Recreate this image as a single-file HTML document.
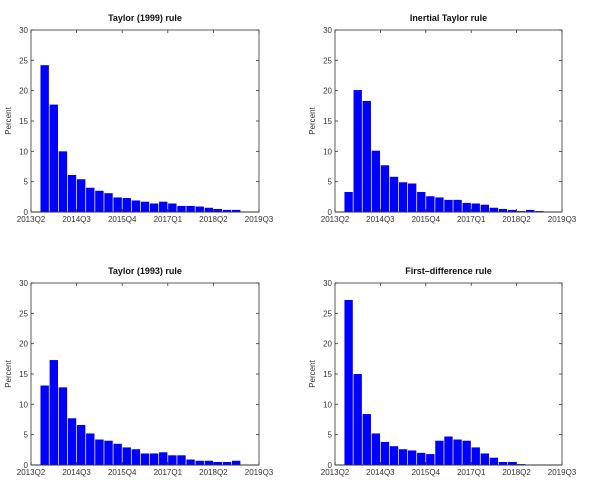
<!DOCTYPE html>
<html><head><meta charset="utf-8"><style>
html,body{margin:0;padding:0;background:#fff;}
svg{display:block;font-family:"Liberation Sans",Arial,sans-serif;}
</style></head><body>
<svg id="chart" width="600" height="493" viewBox="0 0 600 493"></svg>
<script>
const quarterTicks = ["2013Q2","2014Q3","2015Q4","2017Q1","2018Q2","2019Q3"];
const yTicks = [0,5,10,15,20,25,30];
const titles = ["Taylor (1999) rule","Inertial Taylor rule","Taylor (1993) rule","First\u2013difference rule"];
const taylor1999 = [24.2,17.7,10,6.1,5.4,4,3.5,3.1,2.4,2.3,1.9,1.7,1.4,1.7,1.4,1.0,1.0,0.9,0.7,0.5,0.35,0.35];
const inertialTaylor = [3.3,20.1,18.3,10.1,7.7,5.8,4.9,4.7,3.3,2.6,2.4,2.0,2.0,1.5,1.4,1.2,0.7,0.5,0.35,0.15,0.35,0.15];
const taylor1993 = [13.1,17.3,12.8,7.7,6.6,5.2,4.2,4.0,3.5,2.9,2.6,1.9,1.9,2.1,1.6,1.6,0.9,0.7,0.7,0.5,0.5,0.7];
const firstDifference = [27.2,15,8.4,5.2,3.8,3.1,2.6,2.4,2.0,1.8,4.0,4.7,4.2,4.0,2.9,1.9,1.2,0.5,0.5,0.15,0,0];

const NS="http://www.w3.org/2000/svg";
const svg=document.getElementById('chart');
function mk(tag,attrs,parent){const e=document.createElementNS(NS,tag);for(const k in attrs)e.setAttribute(k,attrs[k]);(parent||svg).appendChild(e);return e;}

const panels=[
 {x0:31,x1:259,y0:30,y1:212,data:taylor1999,name:"taylor-1999"},
 {x0:335,x1:562,y0:30,y1:212,data:inertialTaylor,name:"inertial-taylor"},
 {x0:31,x1:259,y0:283,y1:465,data:taylor1993,name:"taylor-1993"},
 {x0:335,x1:562,y0:283,y1:465,data:firstDifference,name:"first-difference"}
];
const nQ=25;
panels.forEach((p,pi)=>{
  const g=mk('g',{});
  
  
  const q=(p.x1-p.x0)/nQ;
  const xs=i=>p.x0+i*q;
  const ys=v=>p.y1-(v/30)*(p.y1-p.y0);
  const bl=mk('line',{x1:p.x0,x2:p.x1,y1:p.y1,y2:p.y1,stroke:'#222','stroke-width':1},g);
  
  
  p.data.forEach((v,i)=>{
    const cx=xs(i+1.5), w=q*0.92;
    const y=ys(v);
    const r=mk('rect',{x:cx-w/2,y:y,width:w,height:p.y1-y,fill:'#0000ff'},g);
    
    
  });
  const box=mk('rect',{x:p.x0,y:p.y0,width:p.x1-p.x0,height:p.y1-p.y0,fill:'none',stroke:'#333','stroke-width':0.8},g);
  
  
  yTicks.forEach(t=>{
    const y=ys(t);
    mk('line',{x1:p.x0,x2:p.x0+3,y1:y,y2:y,stroke:'#333','stroke-width':0.8},g);
    mk('line',{x1:p.x1,x2:p.x1-3,y1:y,y2:y,stroke:'#333','stroke-width':0.8},g);
    const tx=mk('text',{x:p.x0-3,y:y+3,'font-size':8,'text-anchor':'end',fill:'#333'},g);
    tx.textContent=t;
    
    
  });
  quarterTicks.forEach((t,i)=>{
    const x=xs(i*5);
    mk('line',{x1:x,x2:x,y1:p.y1,y2:p.y1-3,stroke:'#333','stroke-width':0.8},g);
    mk('line',{x1:x,x2:x,y1:p.y0,y2:p.y0+3,stroke:'#333','stroke-width':0.8},g);
    const tx=mk('text',{x:x,y:p.y1+10,'font-size':8,'text-anchor':'middle',fill:'#333'},g);
    tx.textContent=t;
    
    
  });
  const tt=mk('text',{x:(p.x0+p.x1)/2,y:p.y0-9,'font-size':9,'font-weight':'bold','text-anchor':'middle',fill:'#111'},g);
  tt.textContent=titles[pi];
  
  
  const yl=(p.y0+p.y1)/2;
  const lx=p.x0-20;
  const yt=mk('text',{x:lx,y:yl,'font-size':8,'text-anchor':'middle',fill:'#333',transform:'rotate(-90 '+lx+' '+yl+')'},g);
  yt.textContent='Percent';
  
  
});
</script>
</body></html>
